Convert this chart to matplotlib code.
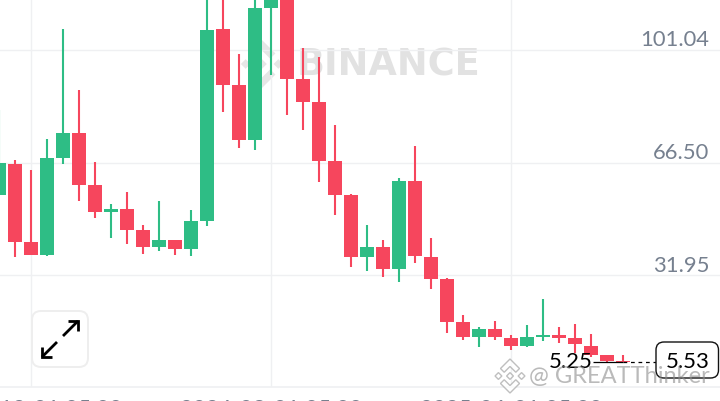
import matplotlib
matplotlib.use("Agg")
import matplotlib.pyplot as plt
from matplotlib.patches import FancyBboxPatch, Polygon
from matplotlib.transforms import ScaledTranslation

plt.rcParams['font.family'] = ['Lato', 'DejaVu Sans']

opens  = [56.69,66.19,42.28,38.30,68.03,75.69,59.75,51.48,52.40,45.96,40.75,42.89,40.14,48.72,107.57,90.41,73.55,114.0,125.0,92.24,85.19,67.11,56.69,37.68,40.75,34.0,60.98,37.68,30.94,17.76,13.16,15.61,12.85,10.40,13.16,13.77,12.85,10.40,7.64,5.81]
closes = [66.50,42.28,38.30,68.03,75.69,59.75,51.48,52.40,45.96,40.75,42.89,40.14,48.72,107.26,90.41,73.55,114.0,125.0,92.24,85.19,67.11,56.69,37.68,40.75,34.0,60.98,37.99,30.94,17.76,13.16,15.61,13.16,10.40,13.16,13.77,12.85,11.0,7.64,5.81,5.53]
highs  = [82.74,67.42,64.35,73.85,107.57,88.87,66.80,53.93,57.61,47.49,54.85,42.89,52.09,125.0,125.0,99.91,125.0,130.0,130.0,101.75,98.99,78.14,57.0,47.49,42.89,61.90,71.71,43.51,31.25,19.91,16.23,18.07,13.77,16.84,24.81,16.23,17.15,14.08,7.64,7.64]
lows   = [56.69,37.68,38.30,37.99,66.19,54.85,49.64,43.51,41.67,38.60,39.52,38.30,37.99,47.19,82.13,71.09,70.48,93.47,81.21,76.61,60.67,50.56,34.62,33.39,31.55,30.02,35.85,27.87,14.39,12.24,10.10,12.24,9.18,10.10,11.93,11.32,8.26,7.03,5.50,5.25]
y_ticks = [31.95, 66.50, 101.04]
y_labels = ['31.95', '66.50', '101.04']
x_ticks = [2, 17, 32]
x_labels = ['2022-12-01 05:00', '2024-03-01 05:00', '2025-06-01 05:00']
last_price = 5.53
low_price = 5.25

GREEN, RED = '#2EBD85', '#F6465D'
GRID = '#EFF0F2'
W, H = 720, 402
fig = plt.figure(figsize=(7.2, 4.02), dpi=100, facecolor='white')

# watermark layer, behind the candles
bg = fig.add_axes([0, 0, 1, 1], zorder=0)
bg.set_xlim(0, W); bg.set_ylim(H, 0); bg.axis('off')

def logo(a, cx, cy, s, fc, ec='none', lw=0, z=1):
    d = lambda x, y, r: [(cx+x*s, cy+y*s-r*s), (cx+x*s+r*s, cy+y*s), (cx+x*s, cy+y*s+r*s), (cx+x*s-r*s, cy+y*s)]
    for x, y, r in [(0, 0, .2), (-.68, 0, .2), (.68, 0, .2)]:
        a.add_patch(Polygon(d(x, y, r), fc=fc, ec=ec, lw=lw, zorder=z))
    for sg in (-1, 1):
        a.add_patch(Polygon([(cx, cy+sg*s), (cx+.56*s, cy+sg*.44*s), (cx+.34*s, cy+sg*.22*s), (cx, cy+sg*.56*s),
                             (cx-.34*s, cy+sg*.22*s), (cx-.56*s, cy+sg*.44*s)], fc=fc, ec=ec, lw=lw, zorder=z))

logo(bg, 262, 65, 24, '#E6E6E6')
bg.text(389, 65.5, 'BINANCE', color='#E2E2E2', fontsize=26.5, fontweight='bold', ha='center', va='center', family='DejaVu Sans')

# chart
ax = fig.add_axes([0, (H-388)/H, 1, 388/H], zorder=1)
ax.patch.set_alpha(0)
ax.set_xlim(1/16, 721/16)
ax.set_ylim(-2.27, 116.66)
for s in ('top', 'left', 'right'):
    ax.spines[s].set_visible(False)
ax.spines['bottom'].set_color(GRID)
ax.spines['bottom'].set_linewidth(1.2)
ax.set_axisbelow(True)
ax.grid(True, color=GRID, lw=1.0)
ax.set_xticks(x_ticks, x_labels)
ax.yaxis.tick_right()
ax.set_yticks(y_ticks, y_labels)
ax.tick_params(axis='x', length=0, pad=8, labelsize=16, labelcolor='#76808F')
ax.tick_params(axis='y', length=0, pad=-7.5, labelsize=15.8, labelcolor='#76808F')
for t in ax.get_yticklabels():
    t.set_ha('right'); t.set_va('bottom')
    t.set_transform(t.get_transform() + ScaledTranslation(0, 0.5/100, fig.dpi_scale_trans))

xs = list(range(len(opens)))
cols = [GREEN if c >= o else RED for o, c in zip(opens, closes)]
ax.vlines(xs, lows, highs, colors=cols, lw=1.5, zorder=3)
ax.bar(xs, [c-o for o, c in zip(opens, closes)], bottom=opens, width=0.875, color=cols, lw=0, zorder=4)
ax.hlines(low_price, 37.1, 39.0, color='black', lw=0.9, zorder=5)
ax.hlines(last_price, 39.0, 41.06, color='black', lw=0.9, linestyles=(0, (3, 3)), zorder=5)

# overlay layer
top = fig.add_axes([0, 0, 1, 1], zorder=2)
top.patch.set_alpha(0)
top.set_xlim(0, W); top.set_ylim(H, 0); top.axis('off')
top.text(571, 362, '5.25', color='black', fontsize=16, ha='center', va='center')
top.add_patch(FancyBboxPatch((662, 349), 50.5, 24, boxstyle='round,pad=6,rounding_size=8', fc='white', ec='#111111', lw=1.0))
top.text(688, 362, '5.53', color='black', fontsize=16, ha='center', va='center')

top.add_patch(FancyBboxPatch((38, 318), 44, 44, boxstyle='round,pad=6,rounding_size=9', fc='white', ec='#EEEEEE', lw=1.4))
for shaft, head in [([(63, 337), (78, 322)], [(68, 322), (78, 322), (78, 332)]),
                    ([(57, 343), (42, 358)], [(42, 348), (42, 358), (52, 358)])]:
    top.plot(*zip(*shaft), color='black', lw=2.0, solid_capstyle='butt')
    top.plot(*zip(*head), color='black', lw=2.0, solid_joinstyle='miter', solid_capstyle='butt')

logo(top, 510, 377, 17, (1, 1, 1, 0.7), ec=(0.72, 0.72, 0.72, 0.9), lw=1.0, z=6)
top.text(529, 377, '@ GREATThinker', color=(0.55, 0.55, 0.55, 0.6), fontsize=17, ha='left', va='center', zorder=6)

fig.savefig('out.png', dpi=100, facecolor='white')
